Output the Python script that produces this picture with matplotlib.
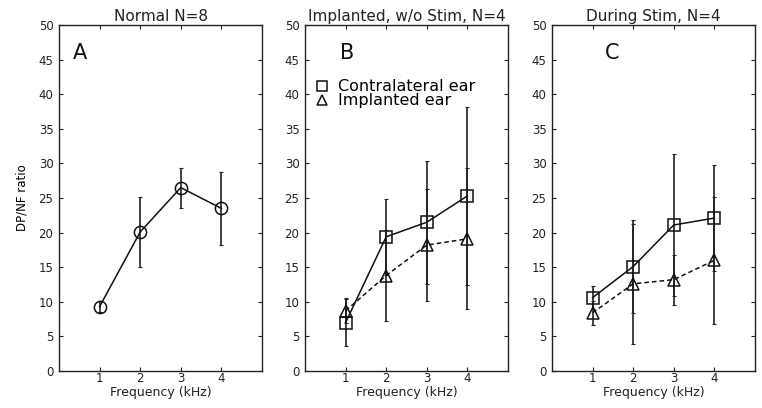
import numpy as np
import matplotlib
matplotlib.use("Agg")
import matplotlib.pyplot as plt
from matplotlib.lines import Line2D

freq = [1, 2, 3, 4]

# Panel A: normal, N=8
normal_mean = [9.3, 20.1, 26.5, 23.5]
normal_err = [0.8, 5.1, 2.9, 5.3]

# Panel B: implanted, without stimulation, N=4
b_contra_mean = [7.0, 19.4, 21.5, 25.3]
b_contra_err = [3.4, 5.5, 8.9, 12.9]
b_impl_mean = [8.7, 13.8, 18.2, 19.1]
b_impl_err = [1.8, 6.6, 8.1, 10.2]

# Panel C: during stimulation, N=4
c_contra_mean = [10.6, 15.1, 21.1, 22.1]
c_contra_err = [1.7, 6.7, 10.3, 7.6]
c_impl_mean = [8.4, 12.6, 13.2, 16.0]
c_impl_err = [1.7, 8.7, 3.6, 9.2]

titles = ["Normal N=8", "Implanted, w/o Stim, N=4", "During Stim, N=4"]
letters = ["A", "B", "C"]
letter_x = [0.07, 0.17, 0.26]

fig = plt.figure(figsize=(7.62, 4.08), dpi=100)
lefts = [59 / 762, 305 / 762, 552 / 762]
axes = [fig.add_axes([l, 37 / 408, 203 / 762, 346 / 408]) for l in lefts]


def plot_series(ax, mean, err, marker, ls, ms):
    ax.errorbar(freq, mean, yerr=err, fmt="none", ecolor="#222222",
                elinewidth=1.2, capsize=1.5, capthick=0.8, zorder=2)
    ax.plot(freq, mean, color="#111111", linestyle=ls, linewidth=1.1,
            marker=marker, markersize=ms, markerfacecolor="none",
            markeredgecolor="#111111", markeredgewidth=1.1, zorder=3)


plot_series(axes[0], normal_mean, normal_err, "o", "-", 8.8)
plot_series(axes[1], b_contra_mean, b_contra_err, "s", "-", 8.5)
plot_series(axes[1], b_impl_mean, b_impl_err, "^", (0, (3, 2)), 9)
plot_series(axes[2], c_contra_mean, c_contra_err, "s", "-", 8.5)
plot_series(axes[2], c_impl_mean, c_impl_err, "^", (0, (3, 2)), 9)

for i, ax in enumerate(axes):
    ax.set_xlim(0, 5)
    ax.set_ylim(0, 50)
    ax.set_xticks(freq)
    ax.set_yticks(np.arange(0, 51, 5))
    ax.tick_params(direction="in", top=True, right=True, length=3,
                   width=0.8, labelsize=8.5, pad=4, colors="#222222")
    ax.tick_params(axis="x", pad=0.5)
    for s in ax.spines.values():
        s.set_linewidth(1.0)
        s.set_color("#222222")
    ax.set_title(titles[i], fontsize=11, pad=3, color="#222222")
    ax.set_xlabel("Frequency (kHz)", fontsize=9, labelpad=1, color="#222222")
    ax.text(letter_x[i], 0.92, letters[i], transform=ax.transAxes,
            fontsize=15, va="center", ha="left", color="#111111")

axes[0].set_ylabel("DP/NF ratio", fontsize=8.5, labelpad=7,
                    family=["Liberation Sans Narrow", "DejaVu Sans"])

handles = [
    Line2D([], [], linestyle="none", marker="s", markersize=7,
           markerfacecolor="none", markeredgecolor="#111111", markeredgewidth=1.1),
    Line2D([], [], linestyle="none", marker="^", markersize=7.5,
           markerfacecolor="none", markeredgecolor="#111111", markeredgewidth=1.1),
]
axes[1].legend(handles, ["Contralateral ear", "Implanted ear"],
               loc="upper left", bbox_to_anchor=(0.015, 0.862), frameon=False,
               fontsize=11.5, handletextpad=0.5, handlelength=1.0,
               borderaxespad=0.0, labelspacing=-0.05)

fig.savefig("out.png", dpi=100)
